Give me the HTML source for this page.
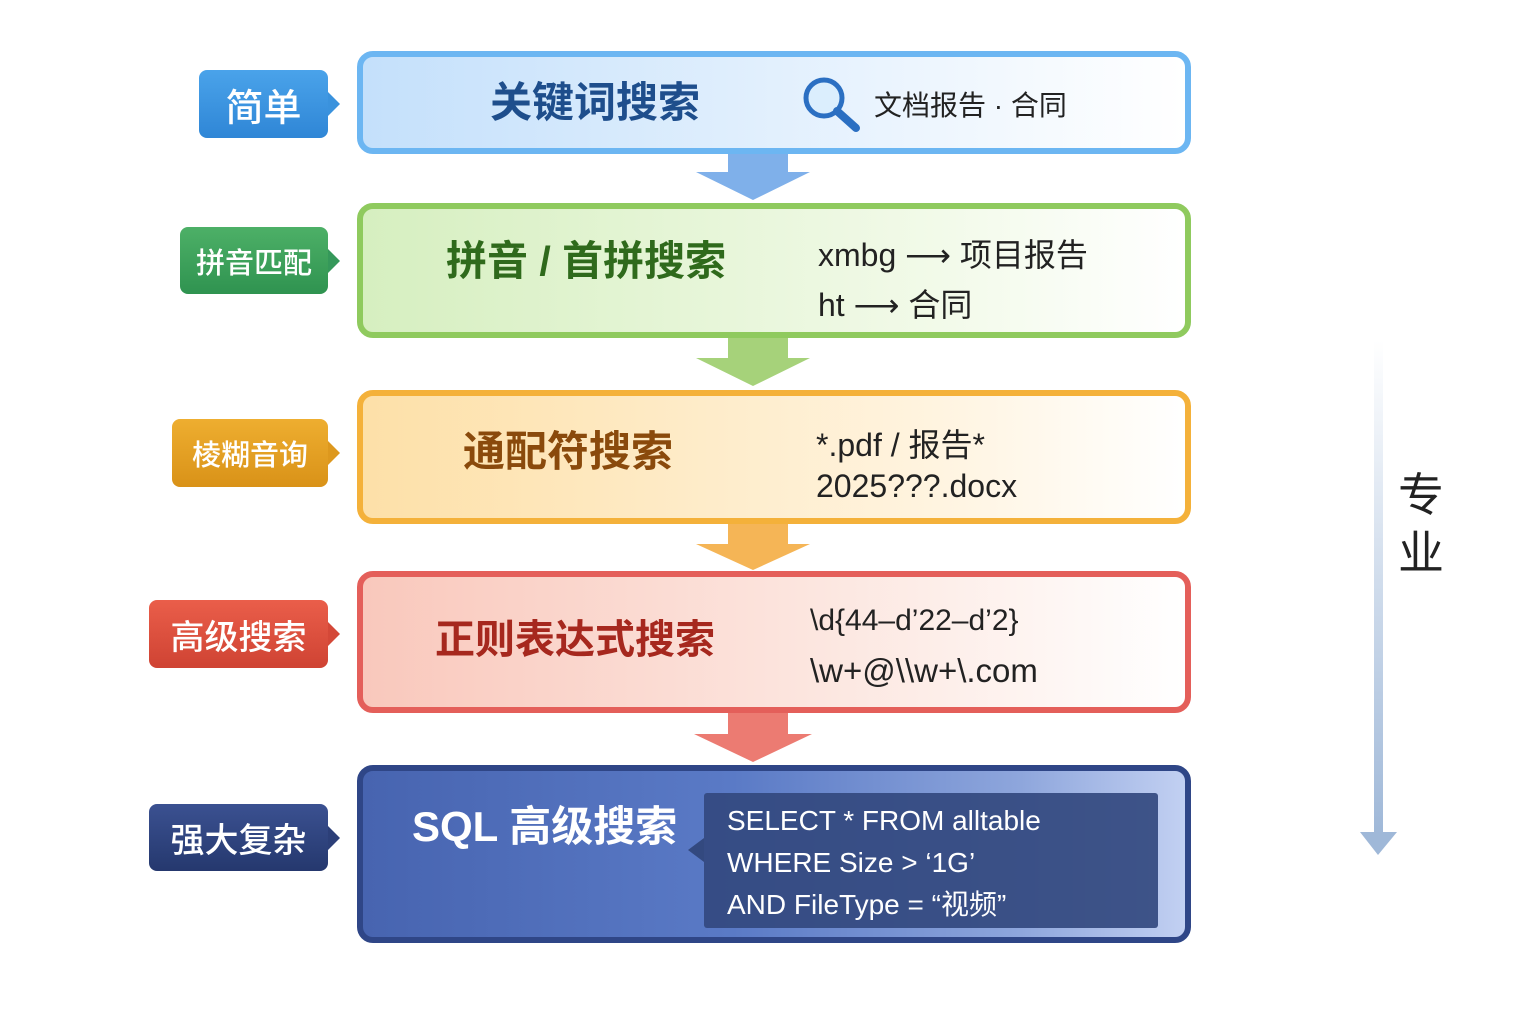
<!DOCTYPE html>
<html><head><meta charset="utf-8"><style>
body{margin:0;width:1536px;height:1024px;background:#fff;position:relative;overflow:hidden;font-family:"Liberation Sans","Noto Sans CJK SC",sans-serif}
.a{position:absolute}
.box{position:absolute;left:357px;width:822px;border-radius:16px;border:6px solid}
.lab{position:absolute;color:#fff;border-radius:8px;display:flex;align-items:center;justify-content:center;font-weight:500}
.lab:after{content:"";position:absolute;right:-12px;top:50%;margin-top:-12px;border-left:12px solid;border-left-color:inherit;border-top:12px solid transparent;border-bottom:12px solid transparent}
.t{position:absolute;font-weight:bold;white-space:nowrap;line-height:1}
.s{position:absolute;white-space:nowrap;color:#222}
</style></head><body>
<svg class="a" style="left:0;top:0" width="1536" height="1024">
<defs>
<linearGradient id="v" x1="0" y1="0" x2="0" y2="1"><stop offset="0" stop-color="#fff"/><stop offset="1" stop-color="#9fb8d8"/></linearGradient>
</defs>
<polygon points="728,154 788,154 788,172 810,172 753,200 696,172 728,172" fill="#7fb0ea"/>
<polygon points="728,338 788,338 788,358 810,358 753,386 696,358 728,358" fill="#a6d27a"/>
<polygon points="728,524 788,524 788,544 810,544 753,570 696,544 728,544" fill="#f5b556"/>
<polygon points="728,713 788,713 788,734 812,734 753,762 694,734 728,734" fill="#ec7b72"/>
<rect x="1374" y="340" width="9" height="495" fill="url(#v)"/>
<polygon points="1360,832 1397,832 1378,855" fill="#9fb8d8"/>
</svg>
<div class="box" style="top:51px;height:91px;border-color:#6cb6f2;background:linear-gradient(90deg,#c4e0fb,#eef6fe 70%,#fff)"></div>
<div class="box" style="top:203px;height:123px;border-color:#8fca5e;background:linear-gradient(90deg,#d6efc0,#f2fae9 70%,#fff)"></div>
<div class="box" style="top:390px;height:122px;border-color:#f4b13a;background:linear-gradient(90deg,#fde0a8,#fff4e0 70%,#fff)"></div>
<div class="box" style="top:571px;height:130px;border-color:#e45f5a;background:linear-gradient(90deg,#f9c8bc,#fdeee9 70%,#fff)"></div>
<div class="box" style="top:765px;height:166px;border-color:#2f4687;background:linear-gradient(90deg,#4764b0,#5a7ac6 45%,#8ea6dc 80%,#c2d0f2)"></div>
<div class="a" style="left:704px;top:793px;width:454px;height:135px;background:#33497f;border-radius:3px;opacity:.92"></div>
<div class="a" style="left:688px;top:838px;border-right:16px solid #33497f;border-top:12px solid transparent;border-bottom:12px solid transparent"></div>
<div class="lab" style="left:199px;top:70px;width:129px;height:68px;background:linear-gradient(#4aa3ea,#2f86d6);border-color:#3a92dd;font-size:38px">简单</div>
<div class="lab" style="left:180px;top:227px;width:148px;height:67px;background:linear-gradient(#4db067,#2f9350);border-color:#35985a;font-size:29px">拼音匹配</div>
<div class="lab" style="left:172px;top:419px;width:156px;height:68px;background:linear-gradient(#eeae30,#d99218);border-color:#dd981e;font-size:29px">棱糊音询</div>
<div class="lab" style="left:149px;top:600px;width:179px;height:68px;background:linear-gradient(#ea5e4a,#cf4333);border-color:#d44838;font-size:34px">高级搜索</div>
<div class="lab" style="left:149px;top:804px;width:179px;height:67px;background:linear-gradient(#3b5191,#25386e);border-color:#2c3f78;font-size:34px">强大复杂</div>
<div class="t" style="left:490px;top:82px;font-size:42px;color:#1e4e8c">关键词搜索</div>
<svg class="a" style="left:800px;top:74px" width="64" height="60"><circle cx="24" cy="24" r="18" fill="#dbeefd" stroke="#2b6fc2" stroke-width="5"/><line x1="37" y1="37" x2="56" y2="54" stroke="#2b6fc2" stroke-width="8" stroke-linecap="round"/></svg>
<div class="s" style="left:874px;top:84px;font-size:28px">文档报告 · 合同</div>
<div class="t" style="left:446px;top:241px;font-size:41px;color:#2f6a1c">拼音 / 首拼搜索</div>
<div class="s" style="left:818px;top:230px;font-size:32px">xmbg ⟶ 项目报告</div>
<div class="s" style="left:818px;top:280px;font-size:32px">ht ⟶ 合同</div>
<div class="t" style="left:463px;top:431px;font-size:42px;color:#8a4a0c">通配符搜索</div>
<div class="s" style="left:816px;top:420px;font-size:32px">*.pdf / 报告*</div>
<div class="s" style="left:816px;top:468px;font-size:32px">2025???.docx</div>
<div class="t" style="left:435px;top:620px;font-size:40px;color:#a6281e">正则表达式搜索</div>
<div class="s" style="left:810px;top:604px;font-size:30px">\d{44–d’22–d’2}</div>
<div class="s" style="left:810px;top:652px;font-size:33px">\w+@\\w+\.com</div>
<div class="t" style="left:412px;top:806px;font-size:42px;color:#fff">SQL 高级搜索</div>
<div class="s" style="left:727px;top:800px;font-size:28px;color:#fff;line-height:42px">SELECT * FROM alltable<br>WHERE Size &gt; ‘1G’<br>AND FileType = “视频”</div>
<div class="s" style="left:1398px;top:466px;font-size:46px;color:#222;line-height:58px">专<br>业</div>
</body></html>
